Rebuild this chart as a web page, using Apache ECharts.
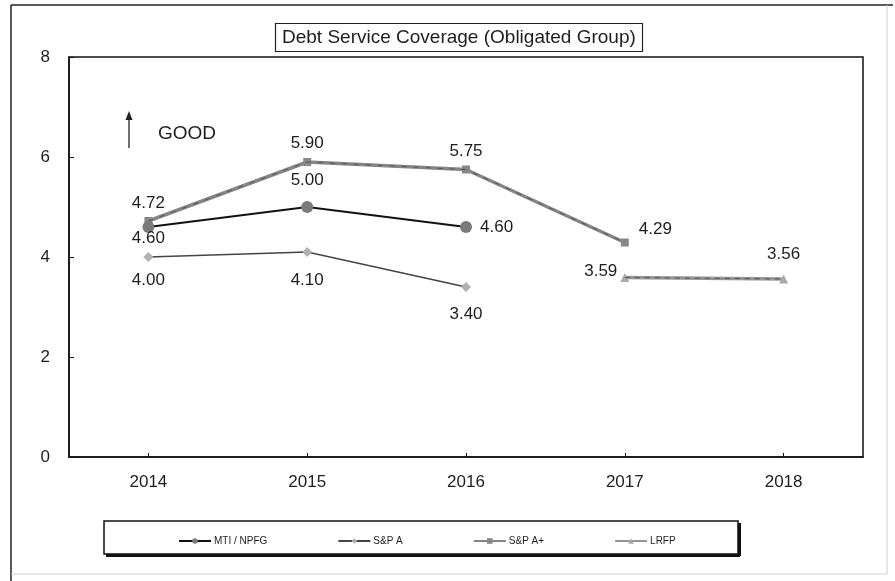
<!DOCTYPE html>
<html>
<head>
<meta charset="utf-8">
<style>
  html, body { margin: 0; padding: 0; background: #fff; }
  #chart { width: 895px; height: 581px; }
</style>
<script src="https://cdn.jsdelivr.net/npm/echarts@6/dist/echarts.min.js"></script>
</head>
<body>
<div id="chart"></div>
<script>
// Fiscal years on the category axis
const years = ['2014', '2015', '2016', '2017', '2018'];

// Debt service coverage ratios (null = no value for that year)
const mtiNpfg = [4.60, 5.00, 4.60, null, null];
const spA     = [4.00, 4.10, 3.40, null, null];
const spAPlus = [4.72, 5.90, 5.75, 4.29, null];
const lrfp    = [null, null, null, 3.59, 3.56];

const yTicks = [0, 2, 4, 6, 8];

const FONT = '"Liberation Sans", Arial, sans-serif';
const TXT = '#1e1e1e';

// Where each point's value label sits relative to its marker
const place = {
  mti:  [['bottom', -3, [0, 0]], ['top', 12, [0, 0]], ['right', 8, [0, 0]]],
  spA:  [['bottom', 10, [0, 0]], ['bottom', 15, [0, 0]], ['bottom', 14, [0, 0]]],
  spAP: [['top', 5, [0, 0]], ['top', 6, [0, 0]], ['top', 6, [0, 0]], ['right', 10, [0, -13]]],
  lrfp: [null, null, null, ['left', 3, [0, -6]], ['top', 12, [0, 0]]]
};

function withLabels(values, spots) {
  return values.map((v, i) => {
    if (v == null) return null;
    const s = spots[i];
    return {
      value: v,
      label: { show: true, position: s[0], distance: s[1], offset: s[2] }
    };
  });
}

const valueLabel = {
  show: true,
  formatter: p => Number(p.value).toFixed(2),
  fontFamily: FONT,
  fontSize: 17,
  color: TXT
};

const chart = echarts.init(document.getElementById('chart'), null, { renderer: 'canvas' });

chart.setOption({
  animation: false,
  backgroundColor: '#fff',
  textStyle: { fontFamily: FONT },
  title: {
    text: 'Debt Service Coverage (Obligated Group)',
    left: 275,
    top: 23,
    padding: [4, 7, 4, 7],
    borderColor: '#222',
    borderWidth: 1.2,
    textStyle: { fontFamily: FONT, fontSize: 19, fontWeight: 'normal', color: TXT, lineHeight: 21 }
  },
  grid: {
    left: 69, right: 32, top: 57, bottom: 124,
    show: true,
    borderColor: '#111',
    borderWidth: 1.5,
    backgroundColor: 'transparent'
  },
  legend: {
    left: 173,
    top: 531,
    itemGap: 70,
    itemWidth: 32,
    itemHeight: 7,
    textStyle: { fontFamily: FONT, fontSize: 10, color: TXT, padding: [0, 0, 0, -2] },
    data: ['MTI / NPFG', 'S&P A', 'S&P A+', 'LRFP']
  },
  xAxis: {
    type: 'category',
    data: years,
    boundaryGap: true,
    axisLine: { lineStyle: { color: '#111', width: 1.5 } },
    axisTick: { show: true, inside: true, alignWithLabel: true, length: 4, lineStyle: { color: '#111' } },
    axisLabel: { margin: 17, fontFamily: FONT, fontSize: 17, color: TXT },
    splitLine: { show: false }
  },
  yAxis: {
    type: 'value',
    min: yTicks[0],
    max: yTicks[yTicks.length - 1],
    interval: yTicks[1] - yTicks[0],
    axisLine: { show: true, lineStyle: { color: '#111', width: 1.5 } },
    axisTick: { show: true, inside: true, length: 5, lineStyle: { color: '#111' } },
    axisLabel: { margin: 19, fontFamily: FONT, fontSize: 17, color: TXT },
    splitLine: { show: false }
  },
  series: [
    {
      name: 'S&P A+',
      type: 'line',
      data: withLabels(spAPlus, place.spAP),
      symbol: 'rect',
      symbolSize: 8,
      lineStyle: { color: '#858585', width: 3.5 },
      itemStyle: { color: '#888' },
      label: valueLabel,
      z: 2
    },
    {
      name: 'S&P A+',
      type: 'line',
      data: spAPlus,
      symbol: 'none',
      lineStyle: { color: '#333', width: 1, type: [5, 7], opacity: 0.6 },
      silent: true,
      z: 3
    },
    {
      name: 'LRFP',
      type: 'line',
      data: withLabels(lrfp, place.lrfp),
      symbol: 'triangle',
      symbolSize: 9,
      lineStyle: { color: '#959595', width: 3.5 },
      itemStyle: { color: '#aaa' },
      label: valueLabel,
      z: 2
    },
    {
      name: 'LRFP',
      type: 'line',
      data: lrfp,
      symbol: 'none',
      lineStyle: { color: '#333', width: 1, type: [5, 5], opacity: 0.7 },
      silent: true,
      z: 3
    },
    {
      name: 'MTI / NPFG',
      type: 'line',
      data: withLabels(mtiNpfg, place.mti),
      symbol: 'circle',
      symbolSize: 12,
      lineStyle: { color: '#111', width: 2 },
      itemStyle: { color: '#7a7a7a' },
      label: valueLabel,
      z: 4
    },
    {
      name: 'S&P A',
      type: 'line',
      data: withLabels(spA, place.spA),
      symbol: 'diamond',
      symbolSize: 10,
      lineStyle: { color: '#444', width: 1.5 },
      itemStyle: { color: '#b0b0b0' },
      label: valueLabel,
      z: 4
    }
  ],
  graphic: [
    // outer frame
    { type: 'line', shape: { x1: 11, y1: 5, x2: 893, y2: 5 }, style: { stroke: '#222', lineWidth: 1.5 } },
    { type: 'line', shape: { x1: 11, y1: 5, x2: 11, y2: 581 }, style: { stroke: '#222', lineWidth: 1.5 } },
    { type: 'line', shape: { x1: 887, y1: 5, x2: 887, y2: 574 }, style: { stroke: '#ccc', lineWidth: 1 } },
    { type: 'line', shape: { x1: 11, y1: 574, x2: 887, y2: 574 }, style: { stroke: '#ccc', lineWidth: 1 } },
    // legend box with drop shadow
    {
      type: 'rect',
      shape: { x: 104, y: 521, width: 634, height: 33 },
      style: { fill: 'transparent', stroke: '#111', lineWidth: 1.5 },
      z: -1
    },
    { type: 'line', shape: { x1: 106, y1: 555.5, x2: 740, y2: 555.5 }, style: { stroke: '#111', lineWidth: 3 } },
    { type: 'line', shape: { x1: 739.5, y1: 523, x2: 739.5, y2: 556 }, style: { stroke: '#111', lineWidth: 3 } },
    // "GOOD" direction marker
    { type: 'line', shape: { x1: 129, y1: 148, x2: 129, y2: 118 }, style: { stroke: '#222', lineWidth: 1.3 } },
    { type: 'polygon', shape: { points: [[129, 111], [125.5, 120], [132.5, 120]] }, style: { fill: '#222' } },
    {
      type: 'text', left: 158, top: 124,
      style: { text: 'GOOD', font: '19px ' + FONT, fill: TXT }
    }
  ]
});
</script>
</body>
</html>
